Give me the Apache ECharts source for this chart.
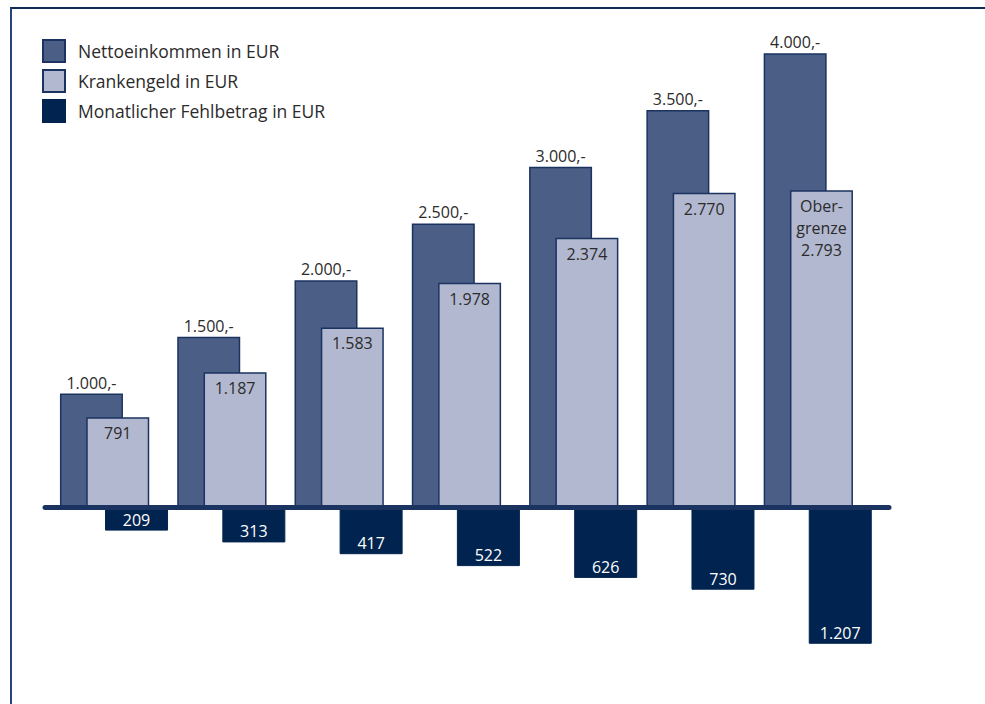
<!DOCTYPE html>
<html>
<head>
<meta charset="utf-8">
<script src="https://cdn.jsdelivr.net/npm/echarts@6/dist/echarts.min.js"></script>
<style>
  html, body { margin: 0; padding: 0; background: #fff; }
  #frame { position: absolute; left: 10px; top: 7px; width: 975px; height: 697px;
           border-left: 2px solid #24447a; border-top: 2px solid #0f2a55; box-sizing: border-box; }
  #chart { position: absolute; left: 0; top: 0; width: 985px; height: 704px; }
</style>
</head>
<body>
<div id="frame"></div>
<div id="chart"></div>
<script>
var categories = ['1000', '1500', '2000', '2500', '3000', '3500', '4000'];
var netto = [1000, 1500, 2000, 2500, 3000, 3500, 4000];
var krankengeld = [791, 1187, 1583, 1978, 2374, 2770, 2793];
var fehlbetrag = [209, 313, 417, 522, 626, 730, 1207];

var cNetto = '#4b5e86';
var cKranken = '#b2b8cf';
var cFehl = '#00244f';
var cEdge = '#1b3360';
var ink = '#2b2b2b';
var font = 'Open Sans';

function de(v) {
  return String(v).replace(/\B(?=(\d{3})+(?!\d))/g, '.');
}

// 113.4 px per 1000, zero line at y = 507
var yMin = -1500, yMax = 4400;
var gridTop = 8, gridHeight = 669;

function yAx(i) {
  return { gridIndex: i, type: 'value', min: yMin, max: yMax, show: false };
}
function xAx(i) {
  return { gridIndex: i, type: 'category', data: categories, show: false };
}

var kData = krankengeld.map(function(v, i) {
  if (i === krankengeld.length - 1) {
    return { value: v, label: { formatter: 'Ober-\ngrenze\n' + de(v) } };
  }
  return v;
});

var chart = echarts.init(document.getElementById('chart'), null, { renderer: 'svg' });
chart.setOption({
  animation: false,
  textStyle: { fontFamily: font },
  legend: {
    orient: 'vertical',
    left: 42,
    top: 39,
    padding: 0,
    itemWidth: 22,
    itemHeight: 22,
    itemGap: 6,
    icon: 'rect',
    textStyle: { color: ink, fontSize: 17.5, lineHeight: 22, fontFamily: font, padding: [0, 0, 0, 8] },
    data: ['Nettoeinkommen in EUR', 'Krankengeld in EUR', 'Monatlicher Fehlbetrag in EUR']
  },
  grid: [
    { left: 32.8, width: 821, top: gridTop, height: gridHeight },
    { left: 59.1, width: 821, top: gridTop, height: gridHeight },
    { left: 77.9, width: 821, top: gridTop, height: gridHeight },
    { left: 45, width: 844, top: gridTop, height: gridHeight }
  ],
  xAxis: [
    xAx(0), xAx(1), xAx(2),
    {
      gridIndex: 3, type: 'value', min: 0, max: 1, z: 10,
      axisLine: { show: true, onZero: true, lineStyle: { color: cEdge, width: 5 } },
      axisTick: { show: false }, axisLabel: { show: false }, splitLine: { show: false }
    }
  ],
  yAxis: [yAx(0), yAx(1), yAx(2), yAx(3)],
  series: [
    {
      name: 'Nettoeinkommen in EUR',
      type: 'bar',
      xAxisIndex: 0, yAxisIndex: 0,
      barWidth: 63,
      itemStyle: { color: cNetto, borderColor: cEdge, borderWidth: 1.5 },
      label: {
        show: true, position: 'top', distance: 3,
        color: ink, fontSize: 16,
        formatter: function(p) { return de(p.value) + ',-'; }
      },
      data: netto
    },
    {
      name: 'Krankengeld in EUR',
      type: 'bar',
      xAxisIndex: 1, yAxisIndex: 1,
      barWidth: 63,
      itemStyle: { color: cKranken, borderColor: cEdge, borderWidth: 1.5 },
      label: {
        show: true, position: 'insideTop', distance: 5,
        color: ink, fontSize: 16, lineHeight: 22,
        formatter: function(p) { return de(p.value); }
      },
      data: kData
    },
    {
      name: 'Monatlicher Fehlbetrag in EUR',
      type: 'bar',
      xAxisIndex: 2, yAxisIndex: 2,
      barWidth: 63,
      itemStyle: { color: cFehl, borderColor: cFehl, borderWidth: 1 },
      label: {
        show: true, position: 'insideBottom', distance: 3,
        color: '#ffffff', fontSize: 16,
        formatter: function(p) { return de(-p.value); }
      },
      data: fehlbetrag.map(function(v) { return -v; })
    }
  ]
});
</script>
</body>
</html>
